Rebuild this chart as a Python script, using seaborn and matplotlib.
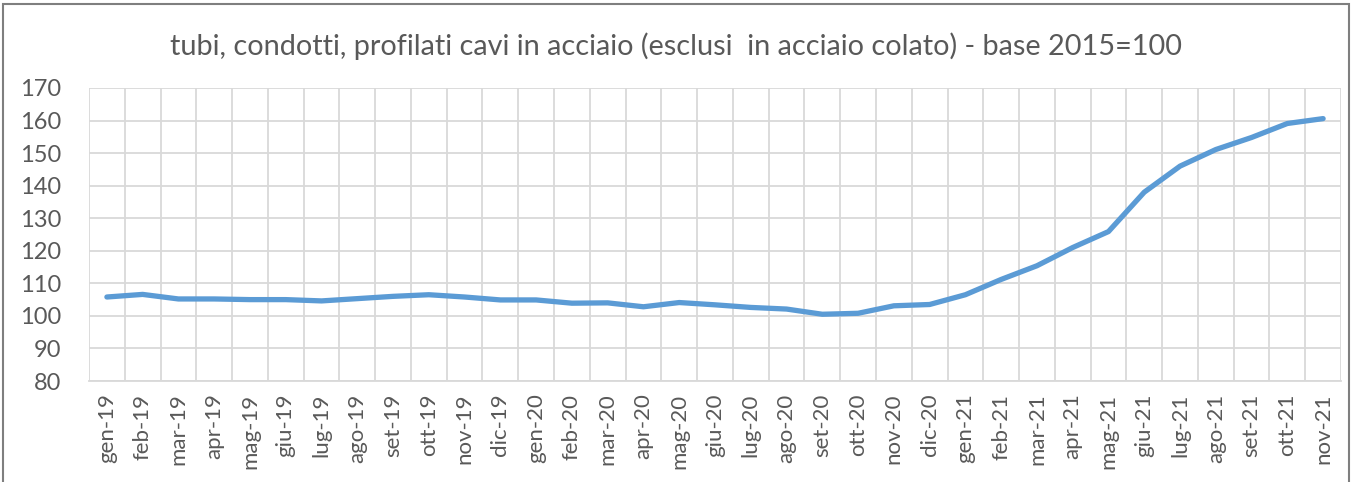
import numpy as np
import pandas as pd
import matplotlib
matplotlib.use('Agg')
import matplotlib.pyplot as plt
from matplotlib.patches import Rectangle
import seaborn as sns

# Data
MONTHS = ['gen-19', 'feb-19', 'mar-19', 'apr-19', 'mag-19', 'giu-19', 'lug-19',
          'ago-19', 'set-19', 'ott-19', 'nov-19', 'dic-19',
          'gen-20', 'feb-20', 'mar-20', 'apr-20', 'mag-20', 'giu-20', 'lug-20',
          'ago-20', 'set-20', 'ott-20', 'nov-20', 'dic-20',
          'gen-21', 'feb-21', 'mar-21', 'apr-21', 'mag-21', 'giu-21', 'lug-21',
          'ago-21', 'set-21', 'ott-21', 'nov-21']
VALUES = [105.8, 106.6, 105.2, 105.2, 105.0, 105.0, 104.6,
          105.3, 106.0, 106.5, 105.8, 104.9,
          104.9, 103.9, 104.0, 102.8, 104.1, 103.4, 102.6,
          102.1, 100.5, 100.8, 103.1, 103.5,
          106.5, 111.2, 115.4, 121.0, 125.9, 138.0, 146.0,
          151.1, 154.8, 159.1, 160.6]
TITLE = 'tubi, condotti, profilati cavi in acciaio (esclusi  in acciaio colato) - base 2015=100'
Y_TICKS = list(range(80, 171, 10))

LINE_COLOR = '#5b9bd5'
GRID_COLOR = '#d9d9d9'
TEXT_COLOR = '#595959'

sns.set_theme(style='white')
plt.rcParams['font.family'] = ['Lato', 'DejaVu Sans']

df = pd.DataFrame({'idx': np.arange(len(MONTHS)), 'value': VALUES})

W, H = 1352, 482
fig = plt.figure(figsize=(W / 100, H / 100), dpi=100)
ax = fig.add_axes([89 / W, 1 - 381 / H, (1341 - 89) / W, (381 - 88) / H])

sns.lineplot(data=df, x='idx', y='value', ax=ax, color=LINE_COLOR,
             linewidth=3.8, solid_capstyle='round', solid_joinstyle='round')

ax.set_xlim(-0.5, len(MONTHS) - 0.5)
ax.set_ylim(80, 170)
ax.set_yticks(Y_TICKS)
ax.set_yticklabels([str(v) for v in Y_TICKS], fontsize=17, color=TEXT_COLOR)

ax.set_xticks(np.arange(len(MONTHS)))
ax.set_xticklabels(MONTHS, rotation=90, fontsize=16, color=TEXT_COLOR)
ax.set_xticks(np.arange(-0.5, len(MONTHS), 1.0), minor=True)
ax.tick_params(axis='x', which='major', length=0, pad=9)
ax.tick_params(axis='x', which='minor', length=6, color=GRID_COLOR, width=1.3)
ax.tick_params(axis='y', length=0, pad=20)

ax.grid(False)
ax.grid(axis='y', which='major', color=GRID_COLOR, linewidth=1.3)
ax.grid(axis='x', which='minor', color=GRID_COLOR, linewidth=1.3)
ax.set_axisbelow(True)

for side in ['top', 'right', 'left']:
    ax.spines[side].set_visible(False)
ax.spines['bottom'].set_color(GRID_COLOR)
ax.spines['bottom'].set_linewidth(1.3)

ax.set_xlabel('')
ax.set_ylabel('')

fig.text(0.5, 1 - 46 / H, TITLE, ha='center', va='center', fontsize=20.8, color=TEXT_COLOR)

# outer chart border
fig.patches.append(Rectangle((3 / W, -0.05), (1349 - 3) / W, 1 - 4 / H + 0.05,
                             transform=fig.transFigure, fill=False,
                             edgecolor='#7f7f7f', linewidth=1.5))

fig.savefig('out.png', dpi=100)
